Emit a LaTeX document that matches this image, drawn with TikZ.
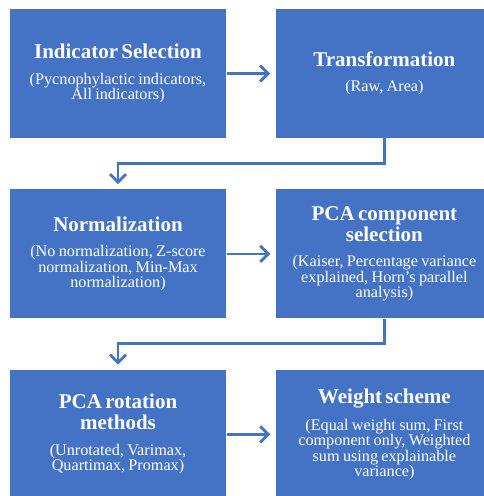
\documentclass[tikz,border=0pt]{standalone}
\usepackage{fontspec}
\setmainfont{Liberation Serif}
\usepackage{tikz}
\usetikzlibrary{positioning,arrows.meta}

\definecolor{stageblue}{RGB}{68,114,196}

\tikzset{
  stage/.style={rectangle, fill=stageblue, text=white, align=center,
    text width=212pt, minimum width=216pt, minimum height=129pt, inner sep=2pt},
  link/.style={draw=stageblue, line width=2.8pt,
    -{Straight Barb[length=8pt,width=16pt,line width=2.8pt]}},
}
\newcommand{\stagetext}[2]{%
  {\bfseries\fontsize{21}{21}\selectfont #1\par}\vspace{10pt}%
  {\fontsize{16.2}{15.5}\selectfont #2\par}}

\begin{document}
\begin{tikzpicture}
  \useasboundingbox (0,0) rectangle (484pt,-496pt);
  \clip (0,0) rectangle (484pt,-496pt);
  % row 1
  \node[stage] (insel) at (118pt,-73.5pt)
    {\stagetext{Indicator Selection}{(Pycnophylactic indicators,\\ All indicators)}};
  \node[stage, right=50pt of insel] (trans)
    {\stagetext{Transformation}{(Raw, Area)}};
  % row 2
  \node[stage, below=51pt of insel] (norm)
    {\stagetext{Normalization}{(No normalization, Z-score\\ normalization, Min-Max\\ normalization)}};
  \node[stage, right=50pt of norm] (pcasel)
    {\stagetext{PCA component\\ selection}{(Kaiser, Percentage variance\\ explained, Horn's parallel\\ analysis)}};
  % row 3
  \node[stage, below=51pt of norm] (rot)
    {\stagetext{PCA rotation\\ methods}{(Unrotated, Varimax,\\ Quartimax, Promax)}};
  \node[stage, right=50pt of rot] (weight)
    {\stagetext{Weight scheme}{(Equal weight sum, First\\ component only, Weighted\\ sum using explainable\\ variance)}};
  % links
  \draw[link, shorten <=1pt, shorten >=6pt] (insel) -- (trans);
  \draw[link, shorten <=1pt, shorten >=6pt] (norm) -- (pcasel);
  \draw[link, shorten <=1pt, shorten >=6pt] (rot) -- (weight);
  \draw[link, shorten >=5pt] (trans.south) -- ++(0,-25pt) -| (norm.north);
  \draw[link, shorten >=5pt] (pcasel.south) -- ++(0,-25pt) -| (rot.north);
\end{tikzpicture}
\end{document}
